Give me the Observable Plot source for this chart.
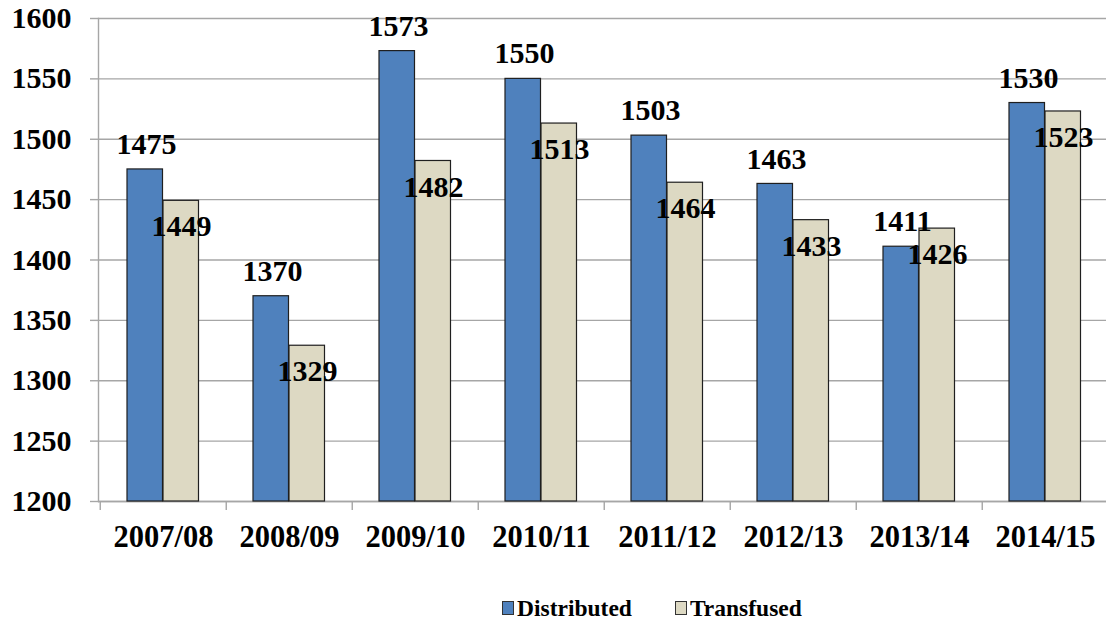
<!DOCTYPE html>
<html>
<head>
<meta charset="utf-8">
<script src="https://cdn.jsdelivr.net/npm/d3@7"></script>
<script src="https://cdn.jsdelivr.net/npm/@observablehq/plot@0.6"></script>
<style>
  html, body { margin: 0; padding: 0; background: #fff; }
  #chart svg { display: block; }
  .legend {
    display: flex; justify-content: flex-start; align-items: center;
    font-family: 'Liberation Serif';
    font-weight: bold; font-size: 23.5px; line-height: 24px;
    margin-top: 6px; padding-left: 502px;
  }
  .legend .item { display: flex; align-items: center; }
  .legend .item + .item { margin-left: 43px; }
  .legend .swatch {
    width: 10px; height: 12px; border: 1px solid #333; margin-right: 3px;
  }
</style>
</head>
<body>
<div id="chart"></div>
<div class="legend">
  <div class="item"><span class="swatch" style="background:#4F81BD"></span>Distributed</div>
  <div class="item"><span class="swatch" style="background:#DDD9C3"></span>Transfused</div>
</div>
<script>
// Blood units per year, distributed vs transfused
const years = ["2007/08", "2008/09", "2009/10", "2010/11", "2011/12", "2012/13", "2013/14", "2014/15"];
const distributed = [1475, 1370, 1573, 1550, 1503, 1463, 1411, 1530];
const transfused = [1449, 1329, 1482, 1513, 1464, 1433, 1426, 1523];
const yDomain = [1200, 1600];
const yTicks = [1200, 1250, 1300, 1350, 1400, 1450, 1500, 1550, 1600];

const blue = "#4F81BD";
const beige = "#DDD9C3";
const gray = "#a6a6a6";
const outline = "#1f1f1f";
const serif = "Liberation Serif";

const distRows = years.map((year, i) => ({year, value: distributed[i]}));
const tranRows = years.map((year, i) => ({year, value: transfused[i]}));

const step = (1110 - 98) / years.length;

const chart = Plot.plot({
  width: 1106,
  height: 590,
  marginLeft: 98,
  marginRight: 0,
  marginTop: 18,
  marginBottom: 89,
  style: {
    fontFamily: serif,
    fontWeight: "bold",
    fontSize: "30px",
    color: "#000",
    background: "#fff"
  },
  x: {domain: years, range: [98, 1110], padding: 0, label: null},
  y: {domain: yDomain, label: null},
  marks: [
    Plot.gridY(yTicks, {stroke: gray, strokeOpacity: 1, strokeWidth: 1.4}),
    Plot.axisY(yTicks, {
      tickSize: 8, tickPadding: 19, stroke: gray, strokeWidth: 1.4,
      fontSize: 30, fontFamily: serif, fontWeight: "bold", tickFormat: d => String(d)
    }),
    Plot.frame({anchor: "left", stroke: gray, strokeWidth: 1.4}),
    Plot.ruleY([yDomain[0]], {stroke: gray, strokeWidth: 1.4}),
    // category boundary ticks below the baseline
    Plot.axisX({tickSize: 9, tickFormat: () => "", dx: -step / 2, stroke: gray, strokeWidth: 1.4}),
    Plot.axisX({tickSize: 0, tickPadding: 24, fontSize: 30.5, fontFamily: serif, fontWeight: "bold"}),
    Plot.barY(distRows, {
      x: "year", y1: yDomain[0], y2: "value",
      fill: blue, stroke: outline, strokeWidth: 1.2,
      insetLeft: 27, insetRight: step - 63
    }),
    Plot.barY(tranRows, {
      x: "year", y1: yDomain[0], y2: "value",
      fill: beige, stroke: outline, strokeWidth: 1.2,
      insetLeft: 63, insetRight: step - 99
    }),
    Plot.text(distRows, {
      x: "year", y: "value", text: d => String(d.value),
      dx: -17, dy: -25, fontSize: 30, fontFamily: serif, fontWeight: "bold", fill: "#000"
    }),
    Plot.text(tranRows, {
      x: "year", y: "value", text: d => String(d.value),
      dx: 18, dy: 26, fontSize: 30, fontFamily: serif, fontWeight: "bold", fill: "#000"
    })
  ]
});

document.getElementById("chart").append(chart);
</script>
</body>
</html>
